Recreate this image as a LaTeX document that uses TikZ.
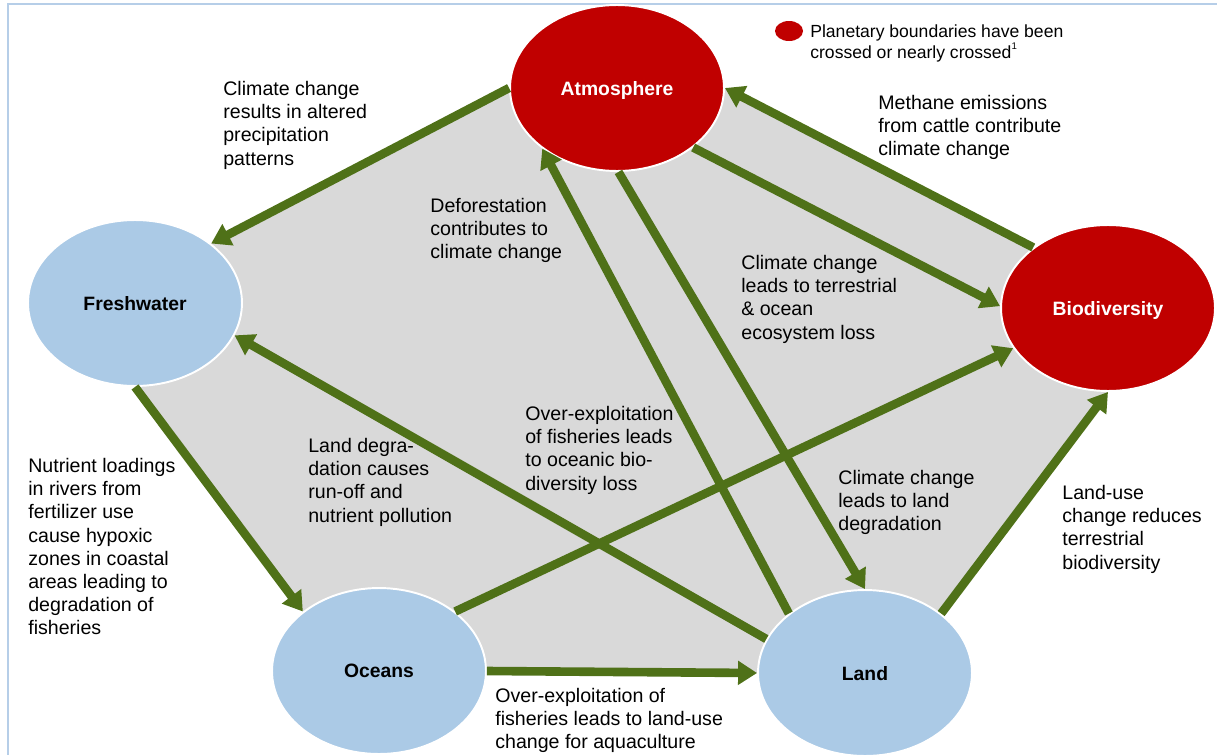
\documentclass[tikz,border=0pt]{standalone}
\usepackage{fontspec}
\setmainfont{Liberation Sans}
\usetikzlibrary{shapes.geometric,arrows.meta,backgrounds}

\definecolor{boundred}{RGB}{192,0,0}
\definecolor{safeblue}{RGB}{171,202,230}
\definecolor{linkgreen}{RGB}{79,113,24}
\definecolor{areagray}{RGB}{217,217,217}
\definecolor{framblue}{RGB}{182,206,232}

\begin{document}
\begin{tikzpicture}[x=0.02cm, y=-0.02cm]
			\tikzstyle{sphere} = [ellipse, draw=white, line width=1.1pt, minimum width=4.28cm, minimum height=3.32cm, inner sep=0pt, text depth=0pt, font=\fontsize{11}{13}\selectfont\bfseries]
			\tikzstyle{crossed} = [sphere, fill=boundred, text=white]
			\tikzstyle{safe} = [sphere, fill=safeblue, text=black]
			\tikzstyle{keydot} = [ellipse, fill=boundred, minimum width=0.56cm, minimum height=0.4cm, inner sep=0pt]
			\tikzstyle{link} = [draw=linkgreen, line width=4.9pt, -{Triangle[length=0.38cm, width=0.46cm]}]
			\tikzstyle{note} = [anchor=north west, align=left, inner sep=0pt, font=\fontsize{11.15}{13.2}\selectfont]

			\useasboundingbox (0,0) rectangle (1217,754);
			\draw [framblue, line width=1.1pt] (8,760) -- (8,4) -- (1220,4);

			\node [crossed] (atm) at (617,88) {Atmosphere};
			\node [safe] (fresh) at (135,303) {Freshwater};
			\node [crossed] (bio) at (1108,308) {Biodiversity};
			\node [safe] (oceans) at (379,671) {Oceans};
			\node [safe] (land) at (865,673) {Land};

			\begin{pgfonlayer}{background}
				\fill [areagray] (atm.180) -- (fresh.38) -- (fresh.270) -- (oceans.142) -- (oceans.0) -- (land.180) -- (land.38) -- (bio.270) -- (bio.141) -- (atm.0) -- cycle;
			\end{pgfonlayer}

			\draw [link] (atm.180) -- (fresh.38);
			\draw [link] (atm.322) -- (bio.179);
			\draw [link] (bio.141) -- (atm.0);
			\draw [link] (atm.271) -- (land.90);
			\draw [link] (land.142) -- (atm.219);
			\draw [link] (land.161) -- (fresh.342);
			\draw [link] (oceans.38) -- (bio.203);
			\draw [link] (fresh.270) -- (oceans.142);
			\draw [link] (oceans.0) -- (land.180);
			\draw [link] (land.38) -- (bio.270);

			\node [note] (precip) at (223,81) {Climate change\\results in altered\\precipitation\\patterns};
			\node [note] (deforest) at (430,198) {Deforestation\\contributes to\\climate change};
			\node [note] (methane) at (878,95) {Methane emissions\\from cattle contribute\\climate change};
			\node [note] (ecoloss) at (741,255) {Climate change\\leads to terrestrial\\\& ocean\\ecosystem loss};
			\node [note] (overfish) at (525,406) {Over-exploitation\\of fisheries leads\\to oceanic bio-\\diversity loss};
			\node [note] (runoff) at (308,438) {Land degra-\\dation causes\\run-off and\\nutrient pollution};
			\node [note] (landdeg) at (838,470) {Climate change\\leads to land\\degradation};
			\node [note] (hypoxic) at (28,458) {Nutrient loadings\\in rivers from\\fertilizer use\\cause hypoxic\\zones in coastal\\areas leading to\\degradation of\\fisheries};
			\node [note] (landuse) at (1062,485) {Land-use\\change reduces\\terrestrial\\biodiversity};
			\node [note] (aquac) at (495,688) {Over-exploitation of\\fisheries leads to land-use\\change for aquaculture};

			\node [keydot] (key) at (789,31) {};
			\node [note, font=\fontsize{10}{11.95}\selectfont] (keytext) at (810,24) {Planetary boundaries have been\\crossed or nearly crossed\raisebox{0.9ex}{\fontsize{5.5}{6}\selectfont 1}};
		\end{tikzpicture}
\end{document}
